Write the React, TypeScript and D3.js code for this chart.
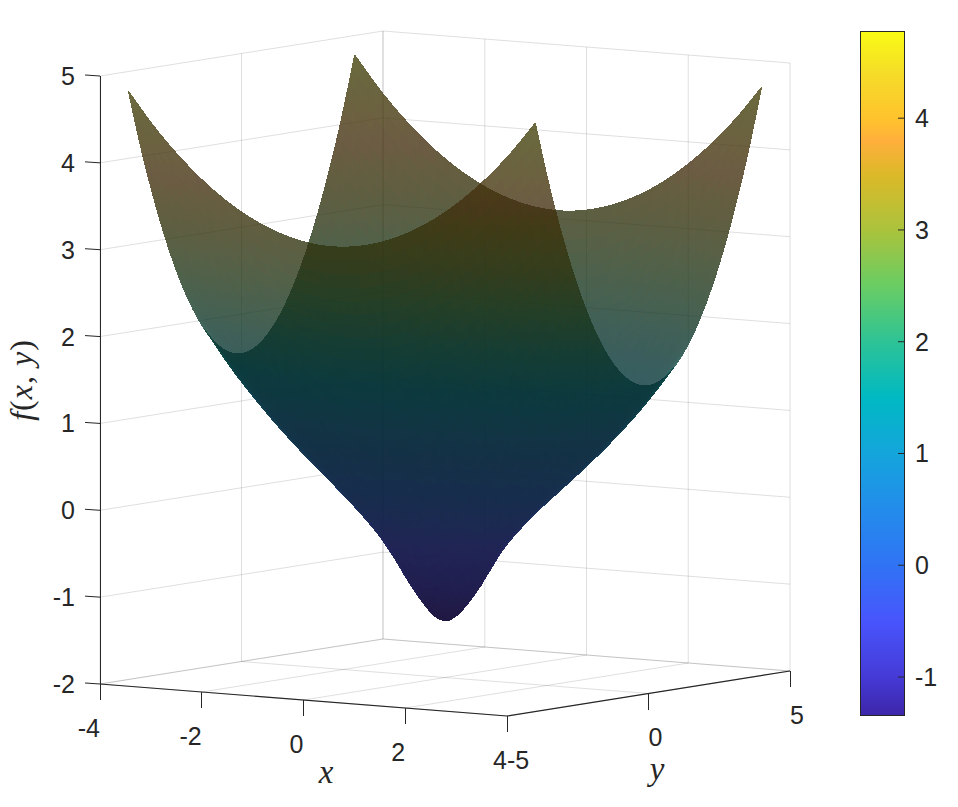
import { useEffect, useRef } from 'react';
import * as d3 from 'd3';

const xTicks = [-4, -2, 0, 2, 4];
const yTicks = [-5, 0, 5];
const zTicks = [-2, -1, 0, 1, 2, 3, 4, 5];
const barTicks = [-1, 0, 1, 2, 3, 4];

// f(x,y) at |x|,|y| = 0, 0.5 ... 4; the surface mirrors in both axes
const gridStep = 0.5;
const zRows = [
  [-1.35, -1.065, -0.53, -0.145, 0.163, 0.463, 0.784, 1.137, 1.545],
  [-1.04, -0.8, -0.4, -0.068, 0.225, 0.519, 0.836, 1.189, 1.596],
  [-0.43, -0.325, -0.103, 0.145, 0.404, 0.683, 0.994, 1.344, 1.749],
  [0.08, 0.132, 0.27, 0.461, 0.688, 0.952, 1.255, 1.6, 2.003],
  [0.563, 0.6, 0.704, 0.863, 1.07, 1.322, 1.617, 1.958, 2.358],
  [1.088, 1.119, 1.208, 1.352, 1.547, 1.789, 2.079, 2.416, 2.813],
  [1.684, 1.711, 1.794, 1.93, 2.117, 2.354, 2.639, 2.973, 3.369],
  [2.37, 2.397, 2.477, 2.608, 2.791, 3.024, 3.306, 3.638, 4.02],
  [3.167, 3.193, 3.27, 3.395, 3.57, 3.795, 4.07, 4.395, 4.775],
];

const colorStops = [-1.34, -1, -0.5, 0, 0.5, 1, 1.5, 2, 2.5, 3, 3.5, 3.8, 4, 4.4, 4.78];
const colorValues = ['#3d26a8', '#453ad6', '#4855fc', '#3073f5', '#238ceb', '#14a5dc', '#00b9c3', '#2dc396', '#69cd64', '#aac33c', '#dcb928', '#ffaf3c', '#ffc32d', '#f5dc28', '#f9fb14'];

const surfaceDomain = [-4, 4];
const faceAlpha = 0.78;

// orthographic box: corners measured on the page
const originX = 100;
const originY = 684;
const xToSx = d3.scaleLinear([-4, 4], [0, 407]);
const xToSy = d3.scaleLinear([-4, 4], [0, 32]);
const yToSx = d3.scaleLinear([-5, 5], [0, 283]);
const yToSy = d3.scaleLinear([-5, 5], [0, -45]);
const zToSy = d3.scaleLinear([-2, 5], [0, -608]);

const project = (x: number, y: number, z: number): [number, number] => [
  originX + xToSx(x) + yToSx(y),
  originY + xToSy(x) + yToSy(y) + zToSy(z),
];

const colormap = d3.scaleLinear<string>().domain(colorStops).range(colorValues).clamp(true);

const tableAt = (i: number, j: number): number => {
  const a = Math.abs(i);
  const b = Math.abs(j);
  if (a > 8) return 2 * tableAt(8, b) - tableAt(7, b);
  if (b > 8) return 2 * tableAt(a, 8) - tableAt(a, 7);
  return zRows[b][a];
};

const cubic = (p0: number, p1: number, p2: number, p3: number, t: number) =>
  p1 + 0.5 * t * (p2 - p0 + t * (2 * p0 - 5 * p1 + 4 * p2 - p3 + t * (3 * (p1 - p2) + p3 - p0)));

// smooth read between the table's values, only so the mesh has no visible facets
const surfaceAt = (x: number, y: number) => {
  const u = Math.abs(x) / gridStep;
  const v = Math.abs(y) / gridStep;
  const i = Math.min(Math.floor(u), 7);
  const j = Math.min(Math.floor(v), 7);
  const col = [-1, 0, 1, 2].map((d) =>
    cubic(tableAt(i + d, j - 1), tableAt(i + d, j), tableAt(i + d, j + 1), tableAt(i + d, j + 2), v - j)
  );
  return cubic(col[0], col[1], col[2], col[3], u - i);
};

const App = () => {
  const svgRef = useRef<SVGSVGElement>(null);

  useEffect(() => {
    const svg = d3.select(svgRef.current);
    svg.selectAll('*').remove();

    const font = 'Liberation Sans, Arial, sans-serif';
    const ink = '#262626';
    const gridColor = 'rgba(38,38,38,0.15)';

    const seg = (g: any, a: [number, number], b: [number, number], color: string, w = 1) =>
      g.append('line').attr('x1', a[0]).attr('y1', a[1]).attr('x2', b[0]).attr('y2', b[1])
        .attr('stroke', color).attr('stroke-width', w);

    // back walls and floor grid
    const grid = svg.append('g');
    zTicks.forEach((z) => {
      seg(grid, project(-4, -5, z), project(-4, 5, z), gridColor);
      seg(grid, project(-4, 5, z), project(4, 5, z), gridColor);
    });
    xTicks.forEach((x) => {
      seg(grid, project(x, 5, -2), project(x, 5, 5), gridColor);
      seg(grid, project(x, -5, -2), project(x, 5, -2), gridColor);
    });
    yTicks.forEach((y) => {
      seg(grid, project(-4, y, -2), project(-4, y, 5), gridColor);
      seg(grid, project(-4, y, -2), project(4, y, -2), gridColor);
    });

    // surface mesh, split in the side we see from inside and the side we see from outside
    const steps = 80;
    const axis = d3.range(steps + 1).map((k) => surfaceDomain[0] + (k * (surfaceDomain[1] - surfaceDomain[0])) / steps);
    const faces: any[] = [];
    const nudge = 0.01;
    for (let a = 0; a < steps; a++) {
      for (let b = 0; b < steps; b++) {
        const corners = [[a, b], [a + 1, b], [a + 1, b + 1], [a, b + 1]].map(([p, q]) => {
          const x = axis[p];
          const y = axis[q];
          return project(x, y, surfaceAt(x, y));
        });
        const cx = (axis[a] + axis[a + 1]) / 2;
        const cy = (axis[b] + axis[b + 1]) / 2;
        const cz = surfaceAt(cx, cy);
        let area = 0;
        corners.forEach((p, n) => {
          const o = corners[(n + 1) % 4];
          area += p[0] * o[1] - o[0] * p[1];
        });
        const fx = (surfaceAt(cx + nudge, cy) - surfaceAt(cx - nudge, cy)) / (2 * nudge);
        const fy = (surfaceAt(cx, cy + nudge) - surfaceAt(cx, cy - nudge)) / (2 * nudge);
        const n = [-fx / 62, -fy / 49.5, 1 / 87.4];
        const len = Math.hypot(n[0], n[1], n[2]);
        const facing = Math.abs(n[0] * 0.57 - n[1] * 0.814 + n[2] * 0.112) / len;
        const light = 0.265 + 0.07 * Math.max(0, 1 - (cz + 1.34) / 2) + 0.14 * Math.pow(1 - facing, 10);
        const c = d3.rgb(colormap(cz));
        faces.push({
          d: d3.line()(corners as any) + 'Z',
          fill: d3.rgb(c.r * light, c.g * light, c.b * light).formatRgb(),
          depth: 2458 * cx - 4419 * cy + 342 * cz,
          inside: area < 0,
        });
      }
    }
    [true, false].forEach((inside) => {
      svg.append('g').attr('opacity', faceAlpha)
        .selectAll('path')
        .data(faces.filter((f) => f.inside === inside).sort((p, q) => d3.ascending(p.depth, q.depth)))
        .join('path')
        .attr('d', (f) => f.d)
        .attr('fill', (f) => f.fill)
        .attr('stroke', (f) => f.fill)
        .attr('stroke-width', 1)
        .attr('stroke-linejoin', 'round')
        .attr('shape-rendering', 'crispEdges');
    });

    // axis lines and ticks
    const axes = svg.append('g');
    seg(axes, project(-4, -5, -2), project(-4, -5, 5), ink).attr('shape-rendering', 'crispEdges');
    seg(axes, project(-4, -5, -2), project(4, -5, -2), ink, 1.2);
    seg(axes, project(4, -5, -2), project(4, 5, -2), ink, 1.2);

    const label = (x: number, y: number, text: string, anchor: string) =>
      svg.append('text').attr('x', x).attr('y', y).attr('text-anchor', anchor)
        .attr('font-family', font).attr('font-size', 25).attr('fill', ink).text(text);

    zTicks.forEach((z) => {
      const [sx, sy] = project(-4, -5, z);
      seg(axes, [sx, sy], [sx - 15, sy - 1], ink);
      label(sx - 25, sy + 9, String(z), 'end');
    });
    xTicks.forEach((x) => {
      const [sx, sy] = project(x, -5, -2);
      seg(axes, [sx, sy], [sx, sy + 16], ink).attr('shape-rendering', 'crispEdges');
      label(sx, sy + 52.5, String(x), 'end');
    });
    yTicks.forEach((y) => {
      const [sx, sy] = project(4, y, -2);
      seg(axes, [sx, sy], [sx, sy + 16], ink).attr('shape-rendering', 'crispEdges');
      label(sx, sy + 52.5, String(y), 'start');
    });

    // axis titles
    const mathFont = 'Liberation Serif, serif';
    const title = (x: number, y: number, text: string) =>
      svg.append('text').attr('x', x).attr('y', y).attr('text-anchor', 'middle')
        .attr('font-family', mathFont).attr('font-size', 33).attr('font-style', 'italic')
        .attr('fill', ink).text(text);
    title(326, 783, 'x');
    title(657, 780, 'y');
    const fxy = svg.append('text').attr('transform', 'translate(32,380) rotate(-90)')
      .attr('text-anchor', 'middle').attr('font-family', mathFont).attr('font-size', 32).attr('fill', ink)
      .attr('letter-spacing', 1);
    [['f', 'italic'], ['(', 'normal'], ['x', 'italic'], [', ', 'normal'], ['y', 'italic'], [')', 'normal']].forEach(([t, s]) => {
      fxy.append('tspan').attr('font-style', s).text(t);
    });

    // colorbar
    const barY = d3.scaleLinear([colorStops[0], colorStops[colorStops.length - 1]], [715, 31]);
    const defs = svg.append('defs');
    const gradient = defs.append('linearGradient').attr('id', 'bar').attr('x1', 0).attr('x2', 0).attr('y1', 1).attr('y2', 0);
    colorStops.forEach((s, k) => {
      gradient.append('stop')
        .attr('offset', (s - colorStops[0]) / (colorStops[colorStops.length - 1] - colorStops[0]))
        .attr('stop-color', colorValues[k]);
    });
    svg.append('rect').attr('x', 860.5).attr('y', 31.5).attr('width', 44).attr('height', 684)
      .attr('fill', 'url(#bar)').attr('stroke', ink).attr('stroke-width', 1);
    barTicks.forEach((t) => {
      seg(svg, [898, barY(t)], [904, barY(t)], ink);
      label(915, barY(t) + 9, String(t), 'start');
    });
  }, []);

  return (
    <svg
      ref={svgRef}
      width={958}
      height={807}
      style={{ position: 'absolute', left: 0, top: 0, display: 'block', background: '#fff' }}
    />
  );
};

export default App;
